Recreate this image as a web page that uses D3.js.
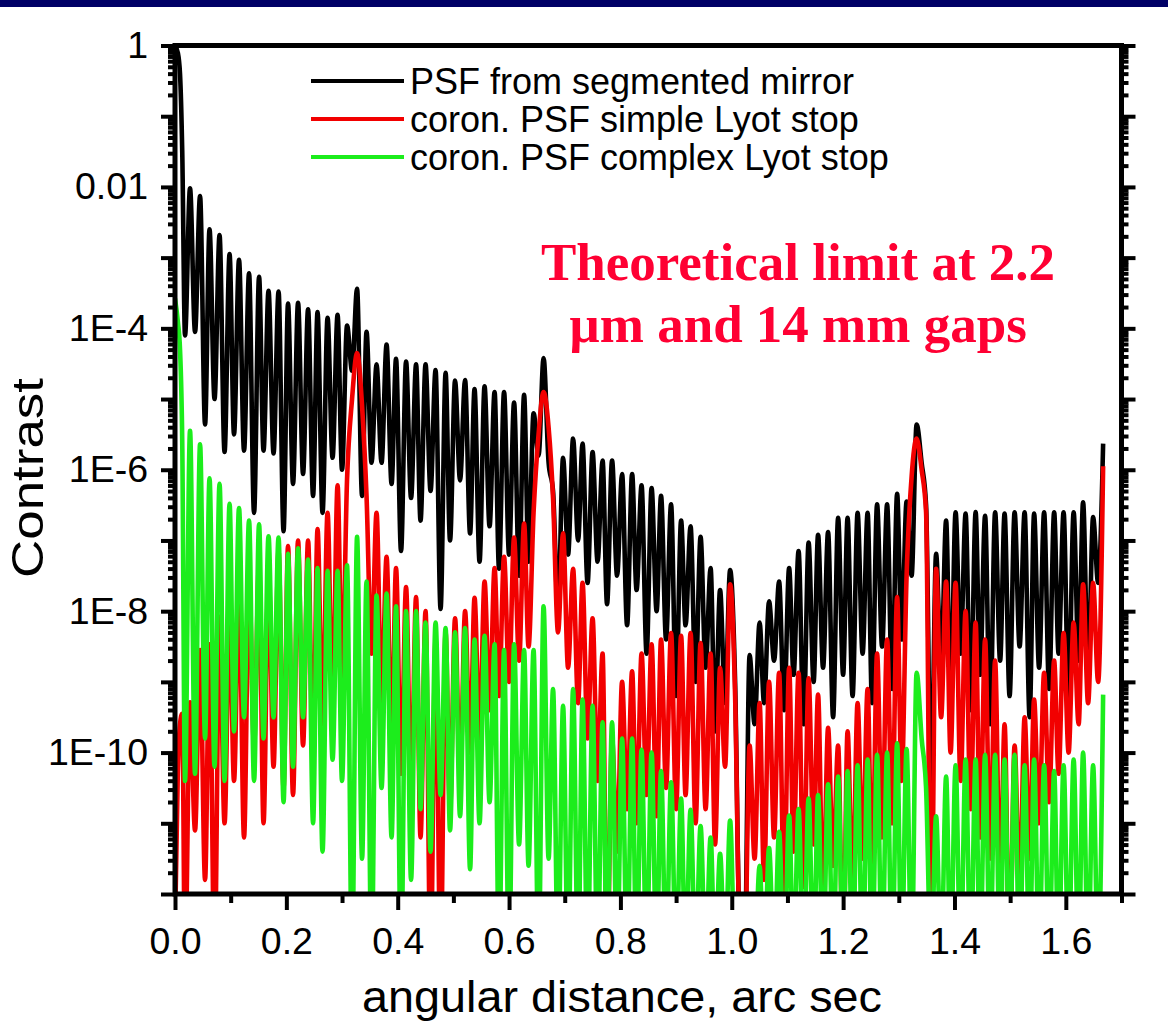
<!DOCTYPE html>
<html>
<head>
<meta charset="utf-8">
<title>PSF contrast vs angular distance</title>
<script src="https://d3js.org/d3.v7.min.js"></script>
<style>
  body { margin: 0; background: #fff; }
  svg { display: block; }
  .tick line { stroke: #000; stroke-width: 4px; }
  .tick text { font-family: "Liberation Sans", Arial, sans-serif; font-size: 37.5px; fill: #000; }
</style>
</head>
<body>
<svg id="chart" width="1168" height="1026"></svg>
<script>
// sample positions in arc sec: centre + main lobe, then null / peak pairs
var sampleX = [
  0, 0.005, 0.009, 0.013,
  0.018, 0.027, 0.036, 0.045, 0.054, 0.062, 0.071, 0.080, 0.089, 0.098, 0.106, 0.115, 0.124, 0.133, 0.142, 0.151, 0.159, 0.168, 0.177, 0.186,
  0.195, 0.203, 0.212, 0.221, 0.230, 0.239, 0.248, 0.256, 0.265, 0.274, 0.283, 0.292, 0.300, 0.309, 0.318, 0.327, 0.336, 0.344, 0.353, 0.362,
  0.371, 0.380, 0.389, 0.397, 0.406, 0.415, 0.424, 0.433, 0.441, 0.450, 0.459, 0.468, 0.477, 0.486, 0.494, 0.503, 0.512, 0.521, 0.530, 0.538,
  0.547, 0.556, 0.565, 0.574, 0.582, 0.591, 0.600, 0.609, 0.618, 0.627, 0.635, 0.644, 0.653, 0.662, 0.671, 0.679, 0.688, 0.697, 0.706, 0.715,
  0.724, 0.732, 0.741, 0.750, 0.759, 0.768, 0.776, 0.785, 0.794, 0.803, 0.812, 0.821, 0.829, 0.838, 0.847, 0.856, 0.865, 0.873, 0.882, 0.891,
  0.900, 0.909, 0.917, 0.926, 0.935, 0.944, 0.953, 0.962, 0.970, 0.979, 0.988, 0.997, 1.006, 1.014, 1.023, 1.032, 1.041, 1.050, 1.058, 1.067,
  1.076, 1.085, 1.094, 1.103, 1.111, 1.120, 1.129, 1.138, 1.147, 1.155, 1.164, 1.173, 1.182, 1.191, 1.200, 1.208, 1.217, 1.226, 1.235, 1.244,
  1.252, 1.261, 1.270, 1.279, 1.288, 1.297, 1.305, 1.314, 1.323, 1.332, 1.341, 1.349, 1.358, 1.367, 1.376, 1.385, 1.393, 1.402, 1.411, 1.420,
  1.429, 1.438, 1.446, 1.455, 1.464, 1.473, 1.482, 1.490, 1.499, 1.508, 1.517, 1.526, 1.535, 1.543, 1.552, 1.561, 1.570, 1.579, 1.587, 1.596,
  1.605, 1.614, 1.623, 1.631, 1.640, 1.649, 1.658, 1.667
];

// log10(contrast), same positions as sampleX
var psfMirror = [
  0, -0.1, -0.4, -1.5,
  -4.1, -2.02, -4.05, -2.13, -5.36, -2.6, -5.0, -2.68, -5.75, -2.95, -5.5, -3.03, -5.73, -3.22, -6.61, -3.27, -5.73, -3.47, -5.77, -3.48,
  -6.87, -3.65, -6.2, -3.64, -6.06, -3.73, -6.37, -3.77, -6.61, -3.85, -5.83, -3.81, -6.0, -3.96, -4.6, -3.44, -6.37, -4.05, -5.9, -4.51,
  -5.9, -4.23, -6.2, -4.43, -7.15, -4.47, -6.4, -4.51, -6.72, -4.51, -6.3, -4.59, -7.97, -4.63, -7.0, -4.74, -6.15, -4.73, -6.9, -4.86,
  -7.3, -4.82, -6.8, -4.9, -7.4, -4.9, -7.2, -5.05, -7.5, -4.94, -7.3, -5.2, -5.8, -4.42, -5.9, -6.3, -8.0, -5.83, -7.2, -5.56,
  -7.0, -5.63, -7.6, -5.75, -7.3, -5.87, -7.9, -5.87, -7.5, -6.06, -8.2, -6.06, -7.7, -6.22, -8.6, -6.26, -8.0, -6.37, -8.4, -6.49,
  -9.2, -6.72, -8.2, -6.8, -9.0, -6.95, -8.8, -7.39, -9.7, -7.7, -9.3, -7.42, -9.0, -12.5, -13, -8.62, -9.6, -8.16, -9.3, -7.86,
  -8.7, -7.58, -9.4, -7.39, -8.9, -7.15, -9.6, -7.03, -9.0, -6.92, -8.8, -6.88, -9.5, -6.68, -8.9, -6.68, -9.2, -6.61, -8.6, -6.61,
  -9.3, -6.49, -8.5, -6.49, -9.1, -6.34, -8.4, -6.45, -7.5, -5.36, -5.9, -6.5, -10.6, -7.19, -8.8, -6.72, -9.3, -6.6, -8.6, -6.62,
  -9.4, -6.6, -8.9, -6.65, -9.6, -6.6, -8.7, -6.62, -9.2, -6.6, -8.5, -6.6, -9.5, -6.62, -8.8, -6.6, -9.1, -6.6, -8.6, -6.6,
  -9.3, -6.6, -8.7, -6.46, -8.9, -6.67, -7.6, -5.63
];

var coronSimple = [
  -12.5, -10.3, -9.6, -9.45,
  -13, -9.29, -11.1, -8.55, -11.8, -8.47, -13, -8.08, -11.0, -8.0, -10.4, -7.62, -11.2, -7.54, -9.9, -7.31, -11.0, -7.39, -10.2, -7.15,
  -10.5, -7.08, -10.6, -7.0, -9.9, -7.0, -10.2, -6.84, -9.6, -6.61, -9.4, -6.22, -9.0, -6.14, -5.0, -4.35, -5.1, -6.37, -8.6, -6.61,
  -9.3, -7.23, -9.9, -7.39, -10.3, -7.66, -10.6, -7.8, -11.2, -8.0, -13, -8.4, -13, -8.3, -10.8, -8.1, -10.4, -8.0, -10.0, -7.81,
  -9.8, -7.58, -9.4, -7.39, -9.2, -7.23, -9.0, -6.96, -8.7, -6.76, -8.5, -6.61, -5.5, -4.9, -5.4, -6.4, -8.3, -6.9, -8.8, -7.4,
  -9.3, -7.6, -9.8, -8.1, -10.4, -8.6, -13, -9.8, -11.4, -9.0, -10.8, -8.85, -11.0, -8.6, -10.6, -8.47, -10.9, -8.4, -10.5, -8.31,
  -10.8, -8.35, -10.6, -8.31, -11.0, -8.45, -10.8, -8.6, -11.3, -8.8, -10.2, -7.62, -9.2, -12.5, -13, -9.9, -11.5, -9.3, -11.8, -9.0,
  -11.2, -8.87, -12.0, -8.8, -11.4, -8.87, -11.9, -8.95, -11.3, -9.18, -12.2, -9.65, -11.6, -9.9, -13, -9.7, -12.0, -9.3, -11.5, -9.1,
  -11.9, -8.6, -11.2, -8.4, -11.0, -7.8, -10.4, -7.5, -6.1, -5.56, -6.0, -6.6, -13, -7.4, -9.5, -7.58, -10.0, -7.6, -10.4, -8.0,
  -10.8, -8.16, -11.2, -8.4, -11.5, -8.7, -12.0, -9.6, -13, -9.9, -12.0, -9.5, -11.5, -9.25, -11.0, -8.87, -10.7, -8.7, -10.3, -8.31,
  -10.0, -8.16, -9.6, -7.62, -9.3, -7.6, -9.0, -5.95
];

var coronComplex = [
  -3.58, -3.9, -4.3, -5.6,
  -10.4, -5.45, -10.3, -5.64, -9.8, -6.12, -10.2, -6.2, -10.4, -6.48, -9.7, -6.54, -9.5, -6.72, -10.4, -6.77, -9.8, -6.94, -9.5, -6.96,
  -10.7, -7.19, -10.2, -7.11, -9.5, -7.27, -11.0, -7.39, -11.4, -7.43, -10.1, -7.43, -10.4, -7.35, -13, -6.95, -11.5, -7.58, -13, -7.78,
  -10.5, -7.75, -11.2, -7.93, -13, -8.0, -11.8, -8.0, -10.8, -8.16, -11.4, -8.16, -10.6, -8.24, -11.1, -8.3, -10.9, -8.24, -11.65, -8.4,
  -11.0, -8.35, -10.7, -8.47, -13, -8.55, -13, -8.47, -11.3, -8.55, -11.6, -8.55, -13, -7.93, -11.5, -9.1, -13, -9.34, -13, -9.1,
  -13, -9.25, -13, -9.34, -13, -9.57, -13, -9.57, -13, -9.8, -13, -9.8, -13, -9.96, -13, -10.0, -13, -10.26, -13, -10.42,
  -13, -10.65, -13, -10.81, -13, -11.04, -13, -11.2, -13, -11.43, -13, -10.96, -13, -12.5, -13, -12.3, -13, -11.6, -13, -11.35,
  -13, -11.12, -13, -10.89, -13, -10.8, -13, -10.65, -13, -10.6, -13, -10.45, -13, -10.34, -13, -10.26, -13, -10.18, -13, -10.1,
  -13, -10.03, -13, -10.0, -13, -9.87, -13, -9.95, -13, -8.87, -9.8, -10.5, -13, -10.9, -13, -10.34, -13, -10.18, -13, -10.1,
  -13, -10.1, -13, -10.03, -13, -10.03, -13, -10.1, -13, -10.03, -13, -10.18, -13, -10.1, -13, -10.18, -13, -10.26, -13, -10.18,
  -13, -10.1, -13, -10.0, -13, -10.18, -13, -9.18
];

var seriesNames = ["PSF from segmented mirror", "coron. PSF simple Lyot stop", "coron. PSF complex Lyot stop"];
var seriesColors = ["#000000", "#f20000", "#1ced1c"];

var xTickValues = [0, 0.2, 0.4, 0.6, 0.8, 1.0, 1.2, 1.4, 1.6];
var xTickLabels = ["0.0", "0.2", "0.4", "0.6", "0.8", "1.0", "1.2", "1.4", "1.6"];
var yTickValues = [1, 1e-2, 1e-4, 1e-6, 1e-8, 1e-10];
var yTickLabels = ["1", "0.01", "1E-4", "1E-6", "1E-8", "1E-10"];
var noteLines = ["Theoretical limit at 2.2", "\u00b5m and 14 mm gaps"];

var svg = d3.select("#chart");
var pLeft = 175, pRight = 1121.5, pTop = 45.5, pBottom = 894;

var x = d3.scaleLinear().domain([0, 1.7]).range([pLeft, pRight]);
var y = d3.scaleLog().domain([1e-12, 1]).range([pBottom, pTop]);

// navy strip at the top of the slide
svg.append("rect").attr("x", 0).attr("y", 0).attr("width", 1168).attr("height", 7).attr("fill", "#000066");

svg.append("clipPath").attr("id", "plotClip")
  .append("rect").attr("x", pLeft).attr("y", pTop - 2).attr("width", pRight - pLeft).attr("height", pBottom - pTop + 2);

var line = d3.line()
  .x(function (d) { return x(d[0]); })
  .y(function (d) { return y(Math.pow(10, d[1])); })
  .curve(d3.curveMonotoneX);

var allSeries = [psfMirror, coronSimple, coronComplex];
var curves = svg.append("g").attr("clip-path", "url(#plotClip)");
allSeries.forEach(function (vals, i) {
  var pts = sampleX.map(function (xv, j) { return [xv, vals[j]]; });
  curves.append("path")
    .attr("d", line(pts))
    .attr("fill", "none")
    .attr("stroke", seriesColors[i])
    .attr("stroke-width", 4.6)
    .attr("stroke-linejoin", "round");
});

// axes: major + minor ticks, outward on left, right and bottom
var decades = d3.range(0, -13, -1).map(function (e) { return Math.pow(10, e); });
var minorY = [];
decades.slice(0, 12).forEach(function (d) {
  for (var m = 2; m <= 9; m++) minorY.push(d / 10 * m);
});
function yLabel(v) {
  var i = yTickValues.findIndex(function (t) { return Math.abs(Math.log10(t) - Math.log10(v)) < 1e-6; });
  return i >= 0 ? yTickLabels[i] : "";
}

svg.append("g").attr("transform", "translate(" + pLeft + ",0)")
  .call(d3.axisLeft(y).tickValues(decades).tickSize(14).tickPadding(13).tickFormat(yLabel));
svg.append("g").attr("transform", "translate(" + pLeft + ",0)")
  .call(d3.axisLeft(y).tickValues(minorY).tickSize(7).tickFormat(""));
svg.append("g").attr("transform", "translate(" + pRight + ",0)")
  .call(d3.axisRight(y).tickValues(decades).tickSize(14).tickFormat(""));
svg.append("g").attr("transform", "translate(" + pRight + ",0)")
  .call(d3.axisRight(y).tickValues(minorY).tickSize(7).tickFormat(""));

svg.append("g").attr("transform", "translate(0," + pBottom + ")")
  .call(d3.axisBottom(x).tickValues(xTickValues).tickSize(16).tickPadding(17)
    .tickFormat(function (d, i) { return xTickLabels[i]; }));
svg.append("g").attr("transform", "translate(0," + pBottom + ")")
  .call(d3.axisBottom(x).tickValues([0.1, 0.3, 0.5, 0.7, 0.9, 1.1, 1.3, 1.5, 1.7]).tickSize(9).tickFormat(""));

svg.selectAll(".domain").remove();

// frame
svg.append("rect")
  .attr("x", pLeft).attr("y", pTop).attr("width", pRight - pLeft).attr("height", pBottom - pTop)
  .attr("fill", "none").attr("stroke", "#000").attr("stroke-width", 5);

// axis titles
svg.append("text")
  .attr("x", 622).attr("y", 1012)
  .attr("text-anchor", "middle")
  .attr("textLength", 520).attr("lengthAdjust", "spacingAndGlyphs")
  .style("font-family", "'Liberation Sans', Arial, sans-serif")
  .style("font-size", "45px")
  .text("angular distance, arc sec");

svg.append("text")
  .attr("transform", "translate(43,478) rotate(-90)")
  .attr("text-anchor", "middle")
  .attr("textLength", 200).attr("lengthAdjust", "spacingAndGlyphs")
  .style("font-family", "'Liberation Sans', Arial, sans-serif")
  .style("font-size", "45px")
  .text("Contrast");

// legend
var legend = svg.append("g");
seriesNames.forEach(function (name, i) {
  var ly = 81 + i * 38;
  legend.append("line")
    .attr("x1", 311).attr("x2", 404).attr("y1", ly).attr("y2", ly)
    .attr("stroke", seriesColors[i]).attr("stroke-width", 4);
  legend.append("text")
    .attr("x", 410).attr("y", ly).attr("dy", "0.35em")
    .style("font-family", "'Liberation Sans', Arial, sans-serif")
    .style("font-size", "36px")
    .text(name);
});

// red note
noteLines.forEach(function (t, i) {
  svg.append("text")
    .attr("x", 798).attr("y", 280 + i * 62)
    .attr("text-anchor", "middle")
    .style("font-family", "'Liberation Serif', 'Times New Roman', serif")
    .style("font-weight", "bold")
    .style("font-size", "53px")
    .style("fill", "#ff0033")
    .text(t);
});
</script>
</body>
</html>
